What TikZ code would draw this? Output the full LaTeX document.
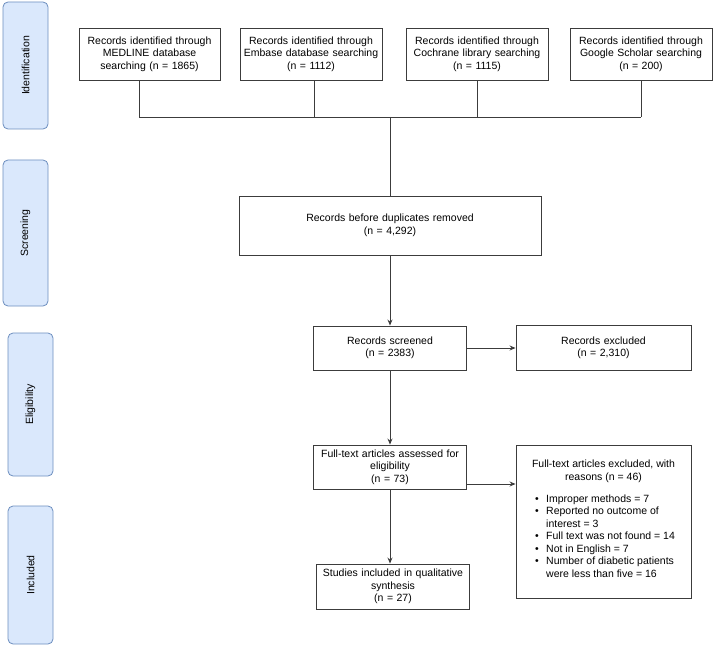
\documentclass[tikz,border=0pt]{standalone}
\usepackage{fontspec}
\setmainfont{Liberation Sans}
\usetikzlibrary{arrows.meta}
\definecolor{phasefill}{HTML}{DAE8FC}
\definecolor{phaseline}{HTML}{6C8EBF}
\definecolor{flowline}{HTML}{3C3C3C}

\begin{document}
\begin{tikzpicture}[x=1pt, y=-1pt,
        font=\fontsize{10.5}{12.5}\selectfont,
        box/.style={draw=flowline, line width=0.9pt, inner sep=0pt, align=center},
        phase/.style={draw=phaseline, fill=phasefill, line width=0.8pt, rounded corners=5pt,
                      inner sep=0pt, minimum width=45pt, rotate=90},
        link/.style={draw=flowline, line width=0.9pt},
        arr/.style={link, -{Stealth[length=6pt, width=5pt]}}]
                \useasboundingbox (0, 0) rectangle (714, 647);

                % phases on the left
                \node[phase, minimum width=127pt, minimum height=45pt] (ident) at (25.5, 65.5) {Identification};
                \node[phase, minimum width=146pt, minimum height=45pt] (screen) at (25.5, 233) {Screening};
                \node[phase, minimum width=143pt, minimum height=45pt] (elig) at (30.5, 404.5) {Eligibility};
                \node[phase, minimum width=138pt, minimum height=45pt] (incl) at (30.5, 575) {Included};

                % sources
                \node[box, text width=141pt, minimum height=52pt] (medline) at (149.5, 54)
                    {Records identified through\\MEDLINE database\\searching (n = 1865)};
                \node[box, text width=142pt, minimum height=52pt] (embase) at (311, 54)
                    {Records identified through\\Embase database searching\\(n = 1112)};
                \node[box, text width=142pt, minimum height=52pt] (cochrane) at (477, 54)
                    {Records identified through\\Cochrane library searching\\(n = 1115)};
                \node[box, text width=142pt, minimum height=52pt] (scholar) at (641, 54)
                    {Records identified through\\Google Scholar searching\\(n = 200)};

                \coordinate (bus1) at (139, 117);
                \coordinate (bus2) at (314, 117);
                \coordinate (bus3) at (477, 117);
                \coordinate (bus4) at (641, 117);

                % main column
                \node[box, text width=302pt, minimum height=59pt] (dups) at (390, 225.5)
                    {Records before duplicates removed\\(n = 4,292)};
                \node[box, text width=153pt, minimum height=44pt] (screened) at (390, 348)
                    {Records screened\\(n = 2383)};
                \node[box, text width=175pt, minimum height=45pt] (excluded) at (603.5, 348)
                    {Records excluded\\(n = 2,310)};
                \node[box, text width=153pt, minimum height=44pt] (fulltext) at (390, 467)
                    {Full-text articles assessed for\\eligibility\\(n = 73)};
                \node[box, text width=153pt, minimum height=45pt] (studies) at (393, 586.5)
                    {Studies included in qualitative\\synthesis\\(n = 27)};
                \node[box, minimum width=175pt, minimum height=153pt] (ftexcl) at (603.5, 521.5)
                    {\begin{minipage}[c][153pt][t]{175pt}
                        \vspace{15pt}
                        {\centering Full-text articles excluded, with\\reasons (n = 46)\par}
                        \vspace{10pt}
                        \begin{tabular}{@{\hspace{19pt}}c@{\hspace{7.5pt}}l@{}}
                            \textbullet & Improper methods = 7\\
                            \textbullet & Reported no outcome of\\
                                        & interest = 3\\
                            \textbullet & Full text was not found = 14\\
                            \textbullet & Not in English = 7\\
                            \textbullet & Number of diabetic patients\\
                                        & were less than five = 16
                        \end{tabular}
                    \end{minipage}};

                % connectors
                \draw[link] (medline.south -| bus1) -- (bus1);
                \draw[link] (embase.south -| bus2) -- (bus2);
                \draw[link] (cochrane.south) -- (bus3);
                \draw[link] (scholar.south) -- (bus4);
                \draw[link] (bus1) -- (bus4);
                \draw[link] (dups.north |- bus1) -- (dups.north);

                \draw[arr] (dups.south) -- (screened.north);
                \draw[arr] (screened.east) -- (excluded.west);
                \draw[arr] (screened.south) -- (fulltext.north);
                \draw[arr] ([yshift=-17pt]fulltext.east) -- ([yshift=-17pt]fulltext.east -| ftexcl.west);
                \draw[arr] (fulltext.south) -- (fulltext.south |- studies.north);
            \end{tikzpicture}
\end{document}
